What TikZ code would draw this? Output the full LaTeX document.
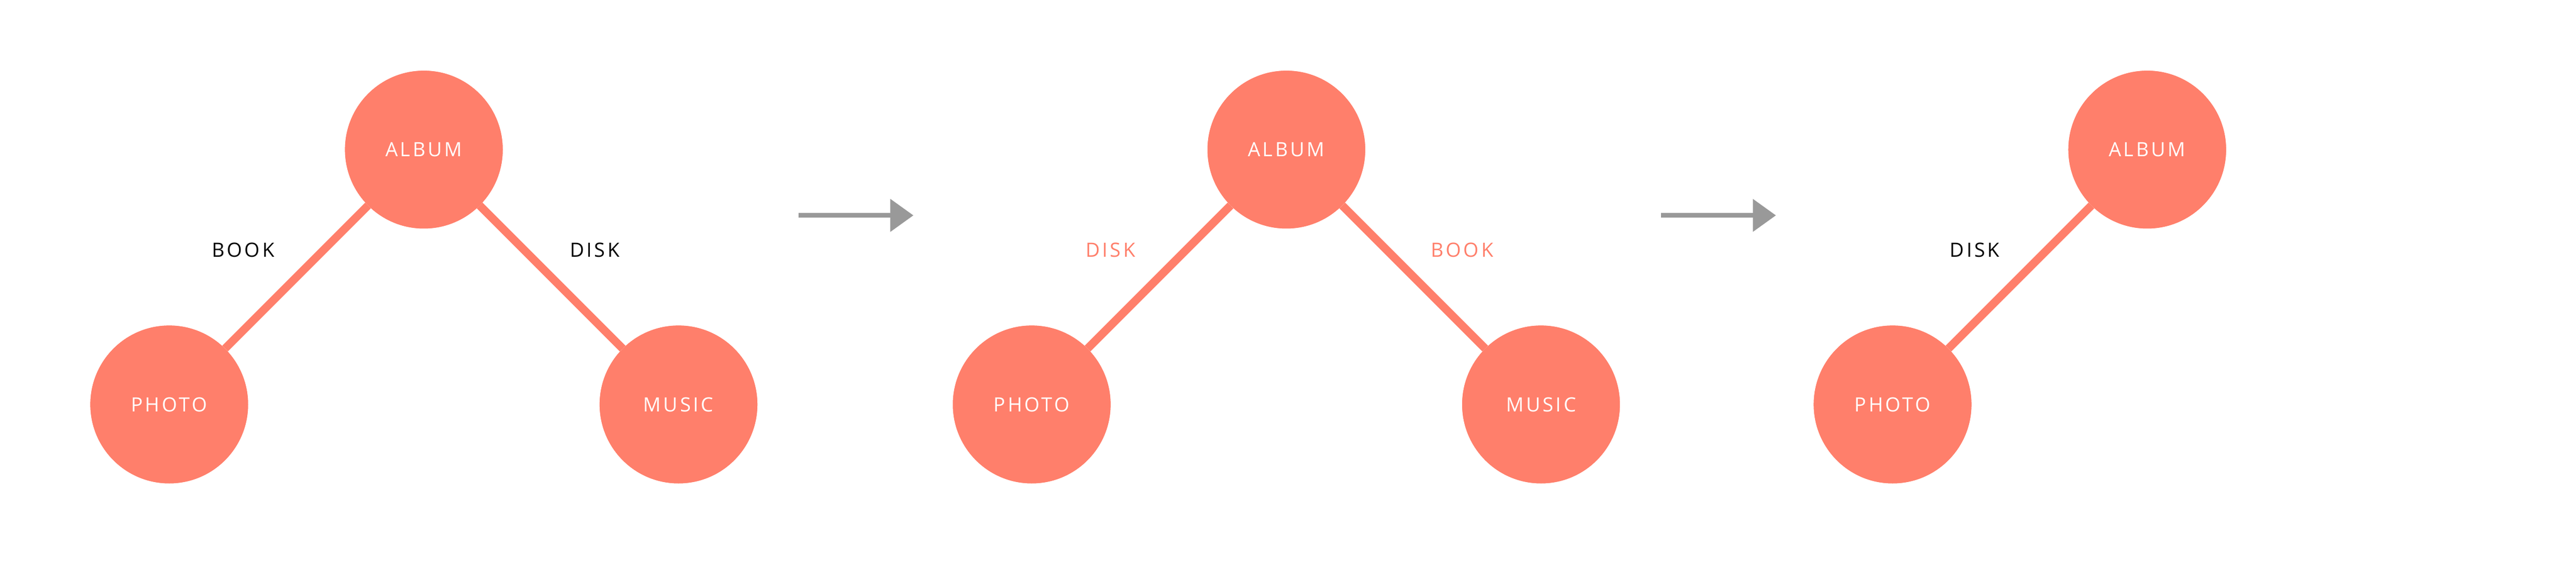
\documentclass[tikz,border=0pt]{standalone}
\usepackage{fontspec}
\setmainfont[LetterSpace=12]{Open Sans}
\usetikzlibrary{arrows.meta}
\definecolor{salmon}{HTML}{FF7F6B}
\definecolor{arr}{HTML}{999999}
\begin{document}
\begin{tikzpicture}[x=0.1cm,y=-0.1cm]
\tikzset{
 circ/.style={circle,fill=salmon,minimum size=9.6cm,inner sep=0pt,text=white,font=\fontsize{34}{40}\selectfont},
 lab/.style={font=\fontsize{34}{40}\selectfont},
 edge/.style={draw=salmon,line width=14pt},
 flow/.style={draw=arr,line width=8pt,-{Triangle[length=40pt,width=55pt]}}
}
\useasboundingbox (0,0) rectangle (1568,341.8);
\foreach \o/\p in {0/a,525/b}{
 \node[circ] (\p A) at (258+\o,91) {ALBUM};
 \node[circ] (\p P) at (103+\o,246) {PHOTO};
 \node[circ] (\p M) at (413+\o,246) {MUSIC};
 \draw[edge] (\p A) -- (\p P);
 \draw[edge] (\p A) -- (\p M);
 \node[circ] at (\p A) {ALBUM};
 \node[circ] at (\p P) {PHOTO};
 \node[circ] at (\p M) {MUSIC};
}
\node[circ] (cA) at (1307,91) {ALBUM};
\node[circ] (cP) at (1152,246) {PHOTO};
\draw[edge] (cA) -- (cP);
\node[circ] at (cA) {ALBUM};
\node[circ] at (cP) {PHOTO};
\node[lab] (l1) at (148,152) {BOOK};
\node[lab] (l2) at (362,152) {DISK};
\node[lab,text=salmon] (l3) at (676,152) {DISK};
\node[lab,text=salmon] (l4) at (890,152) {BOOK};
\node[lab] (l5) at (1202,152) {DISK};
\coordinate (f1) at (486,131); \coordinate (t1) at (556,131);
\coordinate (f2) at (1011,131); \coordinate (t2) at (1081,131);
\draw[flow] (f1) -- (t1);
\draw[flow] (f2) -- (t2);
\end{tikzpicture}
\end{document}
